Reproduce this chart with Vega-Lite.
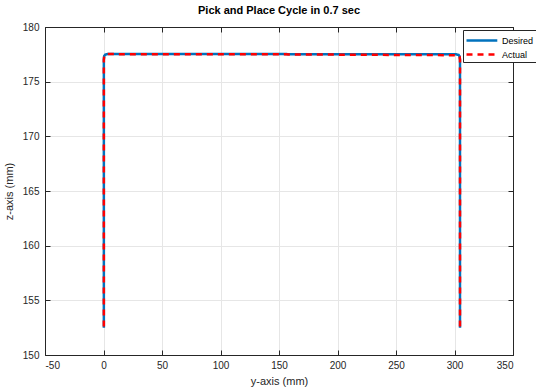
{
  "$schema": "https://vega.github.io/schema/vega-lite/v6.json",
  "width": 468,
  "height": 328,
  "autosize": {"type": "none"},
  "padding": {"left": 45, "top": 27, "right": 23, "bottom": 34},
  "background": "white",
  "title": {"text": "Pick and Place Cycle in 0.7 sec", "font": "Liberation Sans", "fontSize": 11, "fontWeight": "bold", "color": "#000000", "offset": 6},
  "config": {
    "view": {"stroke": "#262626", "strokeWidth": 1},
    "axis": {"labelFont": "Liberation Sans", "titleFont": "Liberation Sans", "labelFontSize": 10, "titleFontSize": 11, "titleFontWeight": "normal", "labelColor": "#262626", "titleColor": "#262626", "domainColor": "#262626", "tickColor": "#262626", "gridColor": "#e6e6e6", "gridWidth": 1, "tickSize": -5, "labelExpr": "'' + datum.value"}
  },
  "data": {"values": [
    {"s": "Desired", "i": 0, "y": 0.3, "z": 152.5},
    {"s": "Desired", "i": 1, "y": 0.3, "z": 177.0},
    {"s": "Desired", "i": 2, "y": 0.6, "z": 177.35},
    {"s": "Desired", "i": 3, "y": 1.5, "z": 177.48},
    {"s": "Desired", "i": 4, "y": 3.5, "z": 177.52},
    {"s": "Desired", "i": 5, "y": 150, "z": 177.52},
    {"s": "Desired", "i": 6, "y": 301.5, "z": 177.5},
    {"s": "Desired", "i": 7, "y": 303.5, "z": 177.45},
    {"s": "Desired", "i": 8, "y": 304.4, "z": 177.3},
    {"s": "Desired", "i": 9, "y": 304.7, "z": 177.0},
    {"s": "Desired", "i": 10, "y": 304.7, "z": 152.5},
    {"s": "Actual", "i": 0, "y": 0.3, "z": 152.6},
    {"s": "Actual", "i": 1, "y": 0.3, "z": 177.0},
    {"s": "Actual", "i": 2, "y": 0.6, "z": 177.35},
    {"s": "Actual", "i": 3, "y": 1.5, "z": 177.48},
    {"s": "Actual", "i": 4, "y": 3.5, "z": 177.52},
    {"s": "Actual", "i": 5, "y": 150, "z": 177.5},
    {"s": "Actual", "i": 6, "y": 301.5, "z": 177.42},
    {"s": "Actual", "i": 7, "y": 303.5, "z": 177.38},
    {"s": "Actual", "i": 8, "y": 304.4, "z": 177.25},
    {"s": "Actual", "i": 9, "y": 304.7, "z": 177.0},
    {"s": "Actual", "i": 10, "y": 304.7, "z": 152.6}
  ]},
  "layer": [
    {
      "mark": {"type": "line", "opacity": 0},
      "encoding": {
        "x": {"field": "y", "type": "quantitative", "scale": {"domain": [-50, 350], "nice": false, "zero": false}, "axis": {"orient": "top", "title": null, "labels": false, "grid": false, "values": [-50, 0, 50, 100, 150, 200, 250, 300, 350]}},
        "y": {"field": "z", "type": "quantitative", "scale": {"domain": [150, 180], "nice": false, "zero": false}, "axis": {"orient": "right", "title": null, "labels": false, "grid": false, "values": [150, 155, 160, 165, 170, 175, 180]}}
      }
    },
    {
      "mark": {"type": "line", "strokeWidth": 2.5, "clip": true},
      "encoding": {
        "x": {"field": "y", "type": "quantitative", "scale": {"domain": [-50, 350], "nice": false, "zero": false}, "axis": {"orient": "bottom", "grid": true, "title": "y-axis (mm)", "values": [-50, 0, 50, 100, 150, 200, 250, 300, 350], "titlePadding": 5, "labelPadding": 10}},
        "y": {"field": "z", "type": "quantitative", "scale": {"domain": [150, 180], "nice": false, "zero": false}, "axis": {"orient": "left", "grid": true, "title": "z-axis (mm)", "values": [150, 155, 160, 165, 170, 175, 180], "titlePadding": 8, "labelPadding": 11}},
        "color": {"field": "s", "type": "nominal", "scale": {"domain": ["Desired", "Actual"], "range": ["#0072BD", "#FF0000"]}, "legend": {"title": null, "orient": "none", "legendX": 418, "legendY": 3, "strokeColor": "#262626", "fillColor": "white", "padding": 2, "symbolType": "M-1,0H3.4", "symbolSize": 196, "symbolStrokeWidth": 2.5, "labelFont": "Liberation Sans", "labelFontSize": 9, "labelColor": "#000000", "rowPadding": -2, "labelOffset": 20}},
        "strokeDash": {"field": "s", "type": "nominal", "scale": {"domain": ["Desired", "Actual"], "range": [[1, 0], [6, 5]]}, "legend": {"title": null, "orient": "none", "legendX": 418, "legendY": 3, "strokeColor": "#262626", "fillColor": "white", "padding": 2, "symbolType": "M-1,0H3.4", "symbolSize": 196, "symbolStrokeWidth": 2.5, "labelFont": "Liberation Sans", "labelFontSize": 9, "labelColor": "#000000", "rowPadding": -2, "labelOffset": 20}},
        "order": {"field": "i", "type": "quantitative"}
      }
    }
  ],
  "resolve": {"axis": {"x": "independent", "y": "independent"}}
}
